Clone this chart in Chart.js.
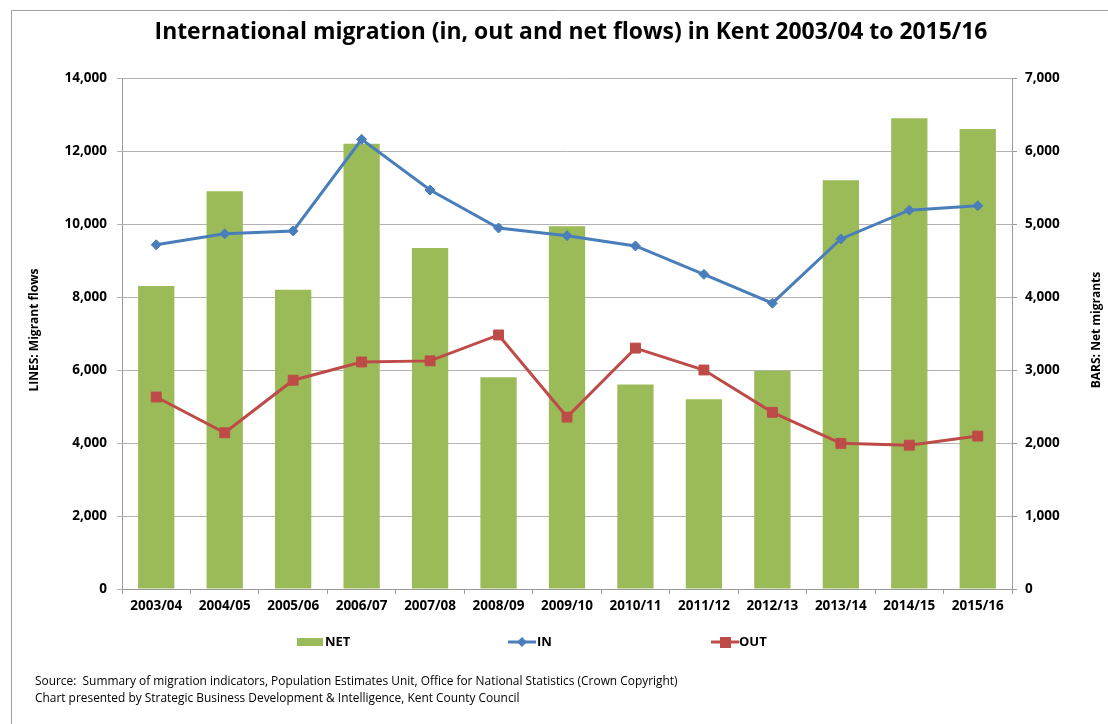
<!DOCTYPE html>
<html>
<head>
<meta charset="utf-8">
<title>International migration in Kent</title>
<script src="https://cdn.jsdelivr.net/npm/chart.js@4.4.1/dist/chart.umd.min.js"></script>
<style>
  html, body { margin: 0; padding: 0; background: #fff; }
  #wrap { width: 1108px; height: 724px; }
</style>
</head>
<body>
<div id="wrap"><canvas id="chartMigration" width="1108" height="724"></canvas></div>
<script>
// datos
const years = ['2003/04', '2004/05', '2005/06', '2006/07', '2007/08', '2008/09', '2009/10',
               '2010/11', '2011/12', '2012/13', '2013/14', '2014/15', '2015/16'];
const netValues = [4150, 5450, 4100, 6100, 4670, 2900, 4970, 2800, 2600, 2990, 5600, 6450, 6300];
const inValues  = [9430, 9730, 9810, 12320, 10930, 9890, 9680, 9400, 8620, 7830, 9590, 10380, 10500];
const outValues = [5260, 4280, 5720, 6220, 6250, 6960, 4710, 6600, 6000, 4840, 3990, 3940, 4190];

const titleText = 'International migration (in, out and net flows) in Kent 2003/04 to 2015/16';
const leftAxisTitle = 'LINES: Migrant flows';
const rightAxisTitle = 'BARS: Net migrants';
const sourceLines = [
  'Source:  Summary of migration indicators, Population Estimates Unit, Office for National Statistics (Crown Copyright)',
  'Chart presented by Strategic Business Development & Intelligence, Kent County Council'
];

const FONT = '"Open Sans", Lato, sans-serif';
const GREEN = '#9BBB59';
const BLUE = '#4A7EBB';
const RED = '#BE4B48';

// ajusta el tamaño de letra para que el texto ocupe el ancho deseado
function fitFont(ctx, text, weight, targetWidth, baseSize) {
  ctx.font = weight + ' ' + baseSize + 'px ' + FONT;
  const w = ctx.measureText(text).width;
  const size = baseSize * targetWidth / w;
  ctx.font = weight + ' ' + size.toFixed(2) + 'px ' + FONT;
}

// textos, marco y leyenda dibujados a mano
const decorPlugin = {
  id: 'decor',
  beforeDraw(chart) {
    const ctx = chart.ctx;
    ctx.save();
    ctx.fillStyle = '#fff';
    ctx.fillRect(0, 0, chart.width, chart.height);
    ctx.strokeStyle = '#a0a0a0';
    ctx.lineWidth = 1;
    ctx.beginPath();
    ctx.moveTo(11.5, chart.height);
    ctx.lineTo(11.5, 10.5);
    ctx.lineTo(chart.width, 10.5);
    ctx.stroke();
    ctx.restore();
  },
  afterDraw(chart) {
    const ctx = chart.ctx;
    ctx.save();
    ctx.fillStyle = '#000';
    // titulo
    fitFont(ctx, titleText, 'bold', 833, 20);
    ctx.textAlign = 'center';
    ctx.textBaseline = 'middle';
    ctx.fillText(titleText, 571, 32);

    // titulos de ejes (girados)
    ctx.font = 'bold 12px ' + FONT;
    ctx.save();
    ctx.translate(35, 330);
    ctx.rotate(-Math.PI / 2);
    ctx.fillText(leftAxisTitle, 0, 0);
    ctx.restore();
    ctx.save();
    ctx.translate(1097, 330);
    ctx.rotate(-Math.PI / 2);
    ctx.fillText(rightAxisTitle, 0, 0);
    ctx.restore();

    // leyenda
    const ly = 642;
    ctx.font = 'bold 13px ' + FONT;
    ctx.textAlign = 'left';
    ctx.fillStyle = GREEN;
    ctx.fillRect(297, ly - 4, 26, 8);
    ctx.fillStyle = '#000';
    ctx.fillText('NET', 325, ly);

    ctx.strokeStyle = BLUE;
    ctx.lineWidth = 3;
    ctx.beginPath(); ctx.moveTo(508, ly); ctx.lineTo(536, ly); ctx.stroke();
    ctx.fillStyle = BLUE;
    ctx.beginPath();
    ctx.moveTo(522, ly - 5); ctx.lineTo(527, ly); ctx.lineTo(522, ly + 5); ctx.lineTo(517, ly);
    ctx.closePath(); ctx.fill();
    ctx.fillStyle = '#000';
    ctx.fillText('IN', 537, ly);

    ctx.strokeStyle = RED;
    ctx.beginPath(); ctx.moveTo(711, ly); ctx.lineTo(739, ly); ctx.stroke();
    ctx.fillStyle = RED;
    ctx.fillRect(720, ly - 5, 11, 11);
    ctx.fillStyle = '#000';
    ctx.fillText('OUT', 739, ly);

    // fuente
    fitFont(ctx, sourceLines[0], 'normal', 643, 12);
    ctx.fillText(sourceLines[0], 35, 682);
    ctx.fillText(sourceLines[1], 35, 699);
    ctx.restore();
  }
};

const tickFont = { family: FONT, size: 13.5, weight: 'bold' };

function drawMigrationChart() {
  const ctx = document.getElementById('chartMigration').getContext('2d');
  new Chart(ctx, {
    type: 'bar',
    data: {
      labels: years,
      datasets: [
        {
          type: 'line',
          label: 'IN',
          data: inValues,
          yAxisID: 'y',
          borderColor: BLUE,
          backgroundColor: BLUE,
          borderWidth: 3,
          pointStyle: 'rectRot',
          pointRadius: 5,
          pointBorderWidth: 1,
          tension: 0,
          order: 1
        },
        {
          type: 'line',
          label: 'OUT',
          data: outValues,
          yAxisID: 'y',
          borderColor: RED,
          backgroundColor: RED,
          borderWidth: 3,
          pointStyle: 'rect',
          pointRadius: 7,
          pointBorderWidth: 1,
          tension: 0,
          order: 1
        },
        {
          label: 'NET',
          data: netValues,
          yAxisID: 'y2',
          backgroundColor: GREEN,
          borderWidth: 0,
          barPercentage: 0.53,
          categoryPercentage: 1,
          order: 2
        }
      ]
    },
    options: {
      responsive: false,
      animation: false,
      layout: { padding: { left: 0, right: 0, top: 78, bottom: 95 } },
      plugins: {
        legend: { display: false },
        tooltip: { enabled: false }
      },
      scales: {
        x: {
          offset: true,
          grid: { offset: true, drawOnChartArea: false, tickLength: 5, color: '#9a9a9a' },
          border: { color: '#9a9a9a' },
          ticks: { color: '#000', padding: 4, font: tickFont, maxRotation: 0 },
          afterFit: function(scale) { scale.height = 40; }
        },
        y: {
          position: 'left',
          min: 0,
          max: 14000,
          ticks: { stepSize: 2000, color: '#000', padding: 10, font: tickFont },
          grid: { color: '#b3b3b3', tickLength: 5 },
          border: { color: '#9a9a9a' },
          afterFit: function(scale) { scale.width = 122; }
        },
        y2: {
          position: 'right',
          min: 0,
          max: 7000,
          ticks: { stepSize: 1000, color: '#000', padding: 8, font: tickFont },
          grid: { drawOnChartArea: false, tickLength: 5, color: '#9a9a9a' },
          border: { color: '#9a9a9a' },
          afterFit: function(scale) { scale.width = 96; }
        }
      }
    },
    plugins: [decorPlugin]
  });
}

document.addEventListener('DOMContentLoaded', function() {
  drawMigrationChart();
});
</script>
</body>
</html>
